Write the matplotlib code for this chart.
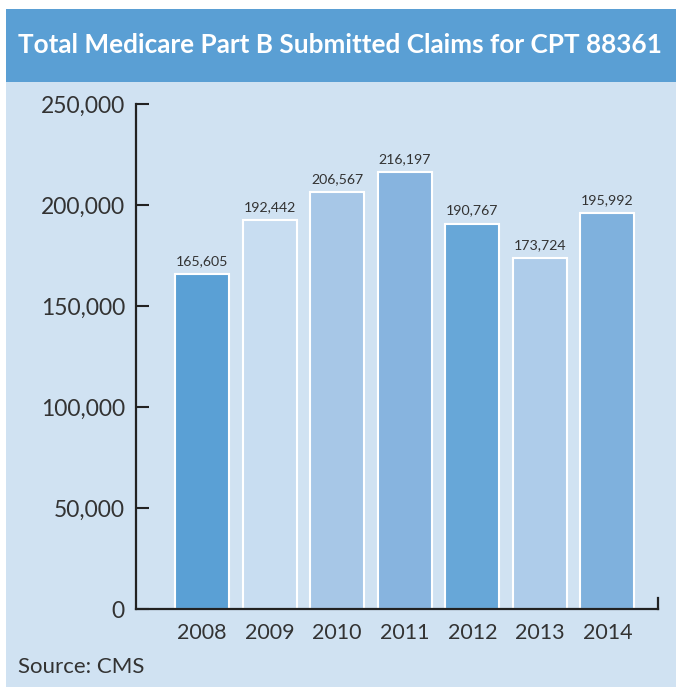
import matplotlib
matplotlib.use("Agg")
import matplotlib.pyplot as plt
from matplotlib.patches import Rectangle

years = ["2008", "2009", "2010", "2011", "2012", "2013", "2014"]
claims = [165605, 192442, 206567, 216197, 190767, 173724, 195992]
bar_colors = ["#5AA0D5", "#C8DDF1", "#A7C7E7", "#87B4DF", "#67A7D8", "#AECCEA", "#7FB1DD"]
yticks = [0, 50000, 100000, 150000, 200000, 250000]

plt.rcParams['font.family'] = ['Lato', 'DejaVu Sans']

fig = plt.figure(figsize=(6.8, 6.87), dpi=100)
fig.patch.set_facecolor("white")

# header band and panel background, kept behind the axes
fig.patches.append(Rectangle((0.009, 0.8806), 0.985, 0.107, transform=fig.transFigure,
                             facecolor="#5A9FD4", edgecolor="none", zorder=-5))
fig.patches.append(Rectangle((0.009, 0.0), 0.985, 0.8806, transform=fig.transFigure,
                             facecolor="#D0E2F2", edgecolor="none", zorder=-5))
fig.text(0.5, 0.934, "Total Medicare Part B Submitted Claims for CPT 88361",
         ha="center", va="center", color="white", fontsize=18.8, fontweight="bold")

ax = fig.add_axes([0.2, 0.1135, 0.7676, 0.7351])
ax.set_facecolor("none")

x = list(range(len(years)))
bars = ax.bar(x, claims, width=0.8, color=bar_colors, edgecolor="white", linewidth=1.5)
for xi, v in zip(x, claims):
    ax.text(xi, v + 3500, f"{v:,}", ha="center", va="bottom", fontsize=10.2, color="#333333")

ax.set_xlim(-0.98, 6.75)
ax.set_ylim(0, 250000)
ax.set_yticks(yticks)
ax.set_yticklabels([f"{t:,}" for t in yticks], fontsize=16.5, color="#333333")
ax.set_xticks(x)
ax.set_xticklabels(years, fontsize=15.5, color="#333333")

ax.tick_params(axis="y", direction="in", length=9, width=1.5, color="#222222", pad=8)
ax.tick_params(axis="x", length=0, pad=10)

ax.spines["top"].set_visible(False)
for s in ["left", "bottom", "right"]:
    ax.spines[s].set_linewidth(1.6)
    ax.spines[s].set_color("#222222")
ax.spines["right"].set_bounds(0, 5500)

fig.text(0.027, 0.029, "Source: CMS", ha="left", va="center", fontsize=16, color="#333333")

fig.savefig("out.png", dpi=100)
